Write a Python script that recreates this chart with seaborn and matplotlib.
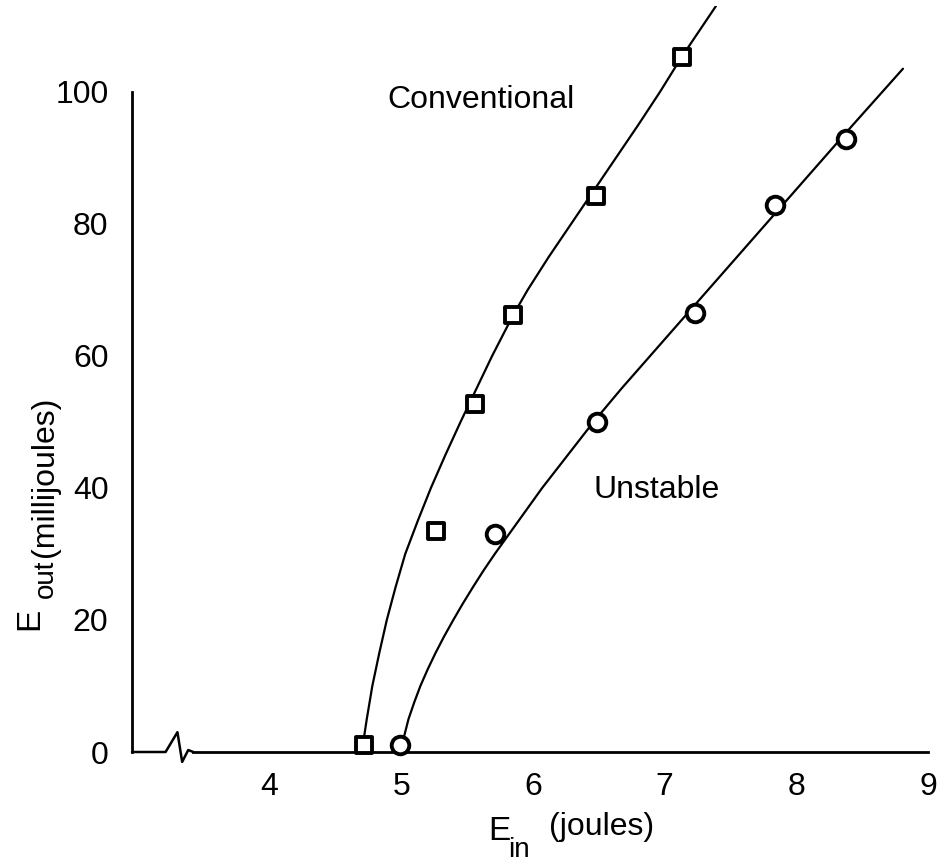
import matplotlib
matplotlib.use("Agg")
import matplotlib.pyplot as plt
import seaborn as sns
import pandas as pd

# measured points
conv_x = [4.72, 5.265, 5.56, 5.85, 6.48, 7.13]
conv_y = [1.0, 33.5, 52.7, 66.2, 84.2, 105.3]
unst_x = [4.99, 5.71, 6.49, 7.23, 7.84, 8.38]
unst_y = [1.0, 33.0, 50.0, 66.5, 82.9, 92.8]

# hand-drawn curves
conv_curve_x = [4.700, 4.738, 4.780, 4.833, 4.890, 4.957, 5.030, 5.125, 5.225, 5.335,
                5.450, 5.570, 5.690, 5.850, 5.960, 6.120, 6.290, 6.460, 6.630, 6.800,
                6.965, 7.130, 7.390]
conv_curve_y = [0.0, 5.0, 10.0, 15.0, 20.0, 25.0, 30.0, 35.0, 40.0, 45.0,
                50.0, 55.0, 60.0, 66.2, 70.0, 75.0, 80.0, 85.0, 90.0, 95.0,
                100.0, 105.3, 113.0]
unst_curve_x = [4.990, 5.023, 5.055, 5.098, 5.145, 5.200, 5.260, 5.325, 5.395, 5.468,
                5.545, 5.625, 5.710, 5.890, 6.070, 6.265, 6.460, 6.670, 6.890, 7.110,
                7.330, 7.550, 7.770, 7.990, 8.210, 8.430, 8.810]
unst_curve_y = [0.0, 2.5, 5.0, 7.5, 10.0, 12.5, 15.0, 17.5, 20.0, 22.5,
                25.0, 27.5, 30.0, 35.0, 40.0, 45.0, 50.0, 55.0, 60.0, 65.0,
                70.0, 75.0, 80.0, 85.0, 90.0, 95.0, 103.5]

x_ticks = [4, 5, 6, 7, 8, 9]
y_ticks = [0, 20, 40, 60, 80, 100]

sns.set_style("white")
FONT = ["Liberation Sans", "DejaVu Sans"]
plt.rcParams["font.family"] = FONT
for k in ["text.color", "axes.labelcolor", "xtick.color", "ytick.color"]:
    plt.rcParams[k] = "black"

W, H = 943, 868
fig = plt.figure(figsize=(W / 100, H / 100), dpi=100)
ax = fig.add_axes([132 / W, 1 - 752 / H, (928 - 132) / W, (752 - 6) / H])

curves = pd.concat([
    pd.DataFrame({"x": conv_curve_x, "y": conv_curve_y, "s": "Conventional"}),
    pd.DataFrame({"x": unst_curve_x, "y": unst_curve_y, "s": "Unstable"}),
])
sns.lineplot(data=curves, x="x", y="y", units="s", estimator=None, sort=False,
             color="black", lw=1.6, ax=ax, legend=False, zorder=2)

pts_c = pd.DataFrame({"x": conv_x, "y": conv_y})
pts_u = pd.DataFrame({"x": unst_x, "y": unst_y})
sns.scatterplot(data=pts_c, x="x", y="y", marker="s", s=120, facecolor="white",
                edgecolor="black", linewidth=2.8, ax=ax, zorder=3, clip_on=False)
sns.scatterplot(data=pts_u, x="x", y="y", marker="o", s=160, facecolor="white",
                edgecolor="black", linewidth=2.8, ax=ax, zorder=3, clip_on=False)

ax.set_xlim(2.955, 9.0)
ax.set_ylim(0, 113)

for s in ["top", "right"]:
    ax.spines[s].set_visible(False)
ax.spines["left"].set_bounds(0, 100)
ax.spines["bottom"].set_bounds(3.42, 9.0)
for s in ["left", "bottom"]:
    ax.spines[s].set_linewidth(2.0)
    ax.spines[s].set_color("black")

# broken-axis zigzag at the start of the x axis
brk_x = [2.955, 3.21, 3.30, 3.336, 3.382, 3.42]
brk_y = [0.0, 0.0, 3.0, -1.5, 0.3, 0.0]
ax.plot(brk_x, brk_y, color="black", lw=1.8, clip_on=False, zorder=4)

ax.set_xticks(x_ticks)
ax.set_yticks(y_ticks)
ax.set_xticklabels([str(v) for v in x_ticks])
ax.set_yticklabels([str(v) for v in y_ticks])
ax.tick_params(axis="x", direction="inout", length=11, width=1.6, pad=9,
               labelsize=23, colors="black")
ax.tick_params(axis="y", direction="inout", length=8, width=1.6, pad=13,
               labelsize=23, colors="black")
ax.set_xlabel("")
ax.set_ylabel("")


def fx(px):
    return px / W


def fy(py):
    return 1 - py / H


# x label: E_in (joules)
fig.text(fx(488), fy(840), "E", fontsize=24, ha="left", va="baseline")
fig.text(fx(508), fy(857), "in", fontsize=20, ha="left", va="baseline")
fig.text(fx(549), fy(835), "(joules)", fontsize=23, ha="left", va="baseline")

# y label: E_out (millijoules)
fig.text(fx(38), fy(630), "E", fontsize=24, ha="left", va="baseline",
         rotation=90, rotation_mode="anchor")
fig.text(fx(53), fy(598), "out", fontsize=20, ha="left", va="baseline",
         rotation=90, rotation_mode="anchor")
fig.text(fx(53), fy(557), "(millijoules)", fontsize=23, ha="left", va="baseline",
         rotation=90, rotation_mode="anchor")

ax.text(4.895, 98.8, "Conventional", fontsize=23, ha="left", va="center")
ax.text(6.46, 39.7, "Unstable", fontsize=23, ha="left", va="center")

fig.savefig("out.png", dpi=100, facecolor="white")
